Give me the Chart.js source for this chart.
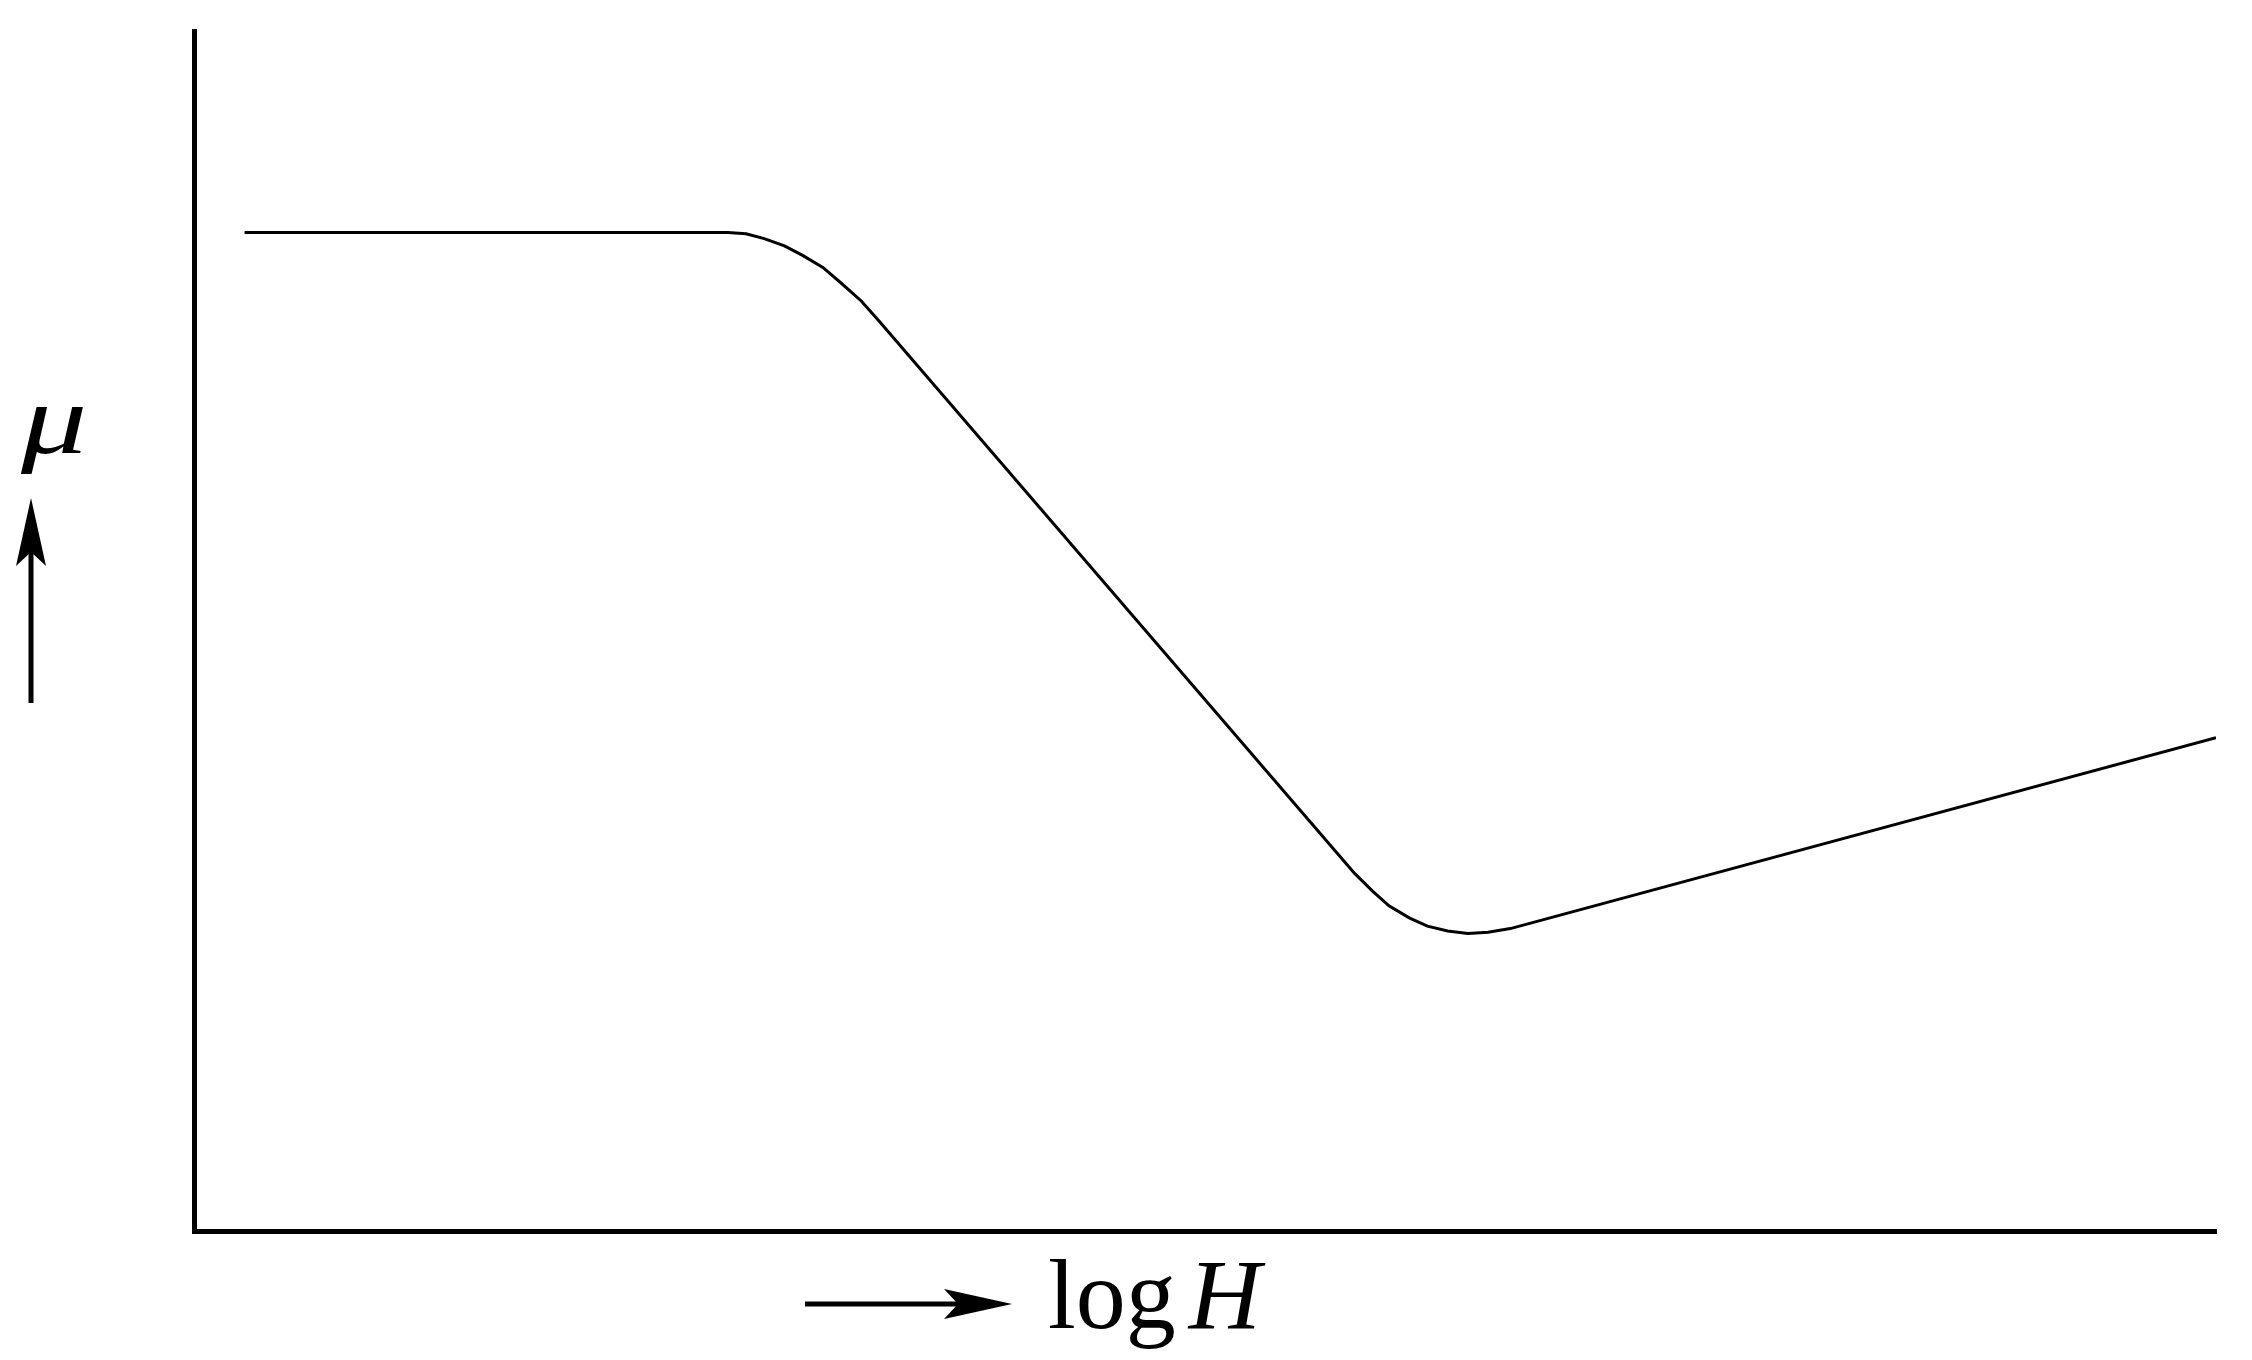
<!DOCTYPE html>
<html>
<head>
<meta charset="utf-8">
<script src="https://cdn.jsdelivr.net/npm/chart.js@4.4.1/dist/chart.umd.min.js"></script>
<style>
    html, body { margin: 0; padding: 0; background: #fff; }
    #wrap { width: 2252px; height: 1360px; position: relative; }
</style>
</head>
<body>
<div id="wrap"><canvas id="muChart"></canvas></div>
<script>
// curve (arbitrary units, axes have no ticks)
// plateau, rounded knee, straight fall, rounded minimum, slow rise
const logH = [0.25, 2.64, 2.73, 2.82, 2.92, 3.01, 3.11, 3.20, 3.30, 3.39,
              5.74, 5.83, 5.91, 6.01, 6.10, 6.20, 6.30, 6.40, 6.51, 10.0];
const mu   = [8.32, 8.32, 8.31, 8.27, 8.21, 8.13, 8.03, 7.90, 7.75, 7.58,
              2.98, 2.83, 2.71, 2.61, 2.54, 2.50, 2.48, 2.49, 2.52, 4.11];
const xRange = [0, 10];
const yRange = [0, 10];

const SERIF = '"Liberation Serif", "DejaVu Serif", serif';

function arrowHead(ctx, tipX, tipY, dx, dy) {
    // concave head, dx/dy is the direction the arrow points
    const len = 68, half = 15, notch = 54;
    const px = -dy, py = dx;
    ctx.beginPath();
    ctx.moveTo(tipX, tipY);
    ctx.lineTo(tipX - dx * len + px * half, tipY - dy * len + py * half);
    ctx.lineTo(tipX - dx * notch, tipY - dy * notch);
    ctx.lineTo(tipX - dx * len - px * half, tipY - dy * len - py * half);
    ctx.closePath();
    ctx.fill();
}

const axisLabels = {
    id: 'axisLabels',
    afterDraw(chart) {
        const ctx = chart.ctx;
        ctx.save();
        ctx.fillStyle = '#000';
        ctx.strokeStyle = '#000';
        ctx.textBaseline = 'alphabetic';
        ctx.textAlign = 'left';

        // mu (wide math glyph) with upward arrow
        ctx.save();
        ctx.translate(21, 453);
        ctx.scale(1.32, 1);
        ctx.font = 'italic 100px ' + SERIF;
        ctx.fillText('\u03bc', 0, 0);
        ctx.restore();

        ctx.lineWidth = 5;
        ctx.beginPath();
        ctx.moveTo(31, 703);
        ctx.lineTo(31, 545);
        ctx.stroke();
        arrowHead(ctx, 31, 498, 0, -1);

        // log H with right arrow
        ctx.beginPath();
        ctx.moveTo(805, 1304);
        ctx.lineTo(960, 1304);
        ctx.stroke();
        arrowHead(ctx, 1012, 1304, 1, 0);

        ctx.font = '100px ' + SERIF;
        ctx.fillText('log', 1048, 1328);
        const w = ctx.measureText('log').width;
        ctx.font = 'italic 100px ' + SERIF;
        ctx.fillText('H', 1048 + w + 13, 1328);
        ctx.restore();
    }
};

const points = logH.map((x, i) => ({ x: x, y: mu[i] }));

new Chart(document.getElementById('muChart'), {
    type: 'line',
    data: {
        datasets: [{
            data: points,
            borderColor: '#000',
            borderWidth: 3,
            pointRadius: 0,
            fill: false,
            tension: 0
        }]
    },
    options: {
        responsive: true,
        maintainAspectRatio: false,
        animation: false,
        layout: { padding: { left: 194, right: 36, top: 31, bottom: 129 } },
        plugins: { legend: { display: false }, tooltip: { enabled: false } },
        scales: {
            x: {
                type: 'linear', min: xRange[0], max: xRange[1],
                ticks: { display: false },
                grid: { display: false, drawTicks: false },
                border: { display: true, color: '#000', width: 5 }
            },
            y: {
                type: 'linear', min: yRange[0], max: yRange[1],
                ticks: { display: false },
                grid: { display: false, drawTicks: false },
                border: { display: true, color: '#000', width: 5 }
            }
        }
    },
    plugins: [axisLabels]
});
</script>
</body>
</html>
